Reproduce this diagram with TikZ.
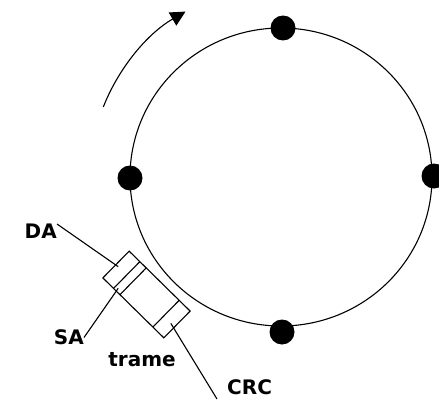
\documentclass[tikz,border=0pt]{standalone}
\usepackage{fontspec}
\setmainfont{DejaVu Sans}
\usetikzlibrary{arrows.meta,calc}
\begin{document}
\begin{tikzpicture}[x=1pt,y=1pt,
  ln/.style={line width=1.1pt},
  dot/.style={circle,fill=black,inner sep=0pt,minimum size=25pt},
  lbl/.style={font=\fontsize{20}{20}\selectfont\bfseries,inner sep=0pt}]
\path[use as bounding box] (0,0) rectangle (439,400);
% ring
\coordinate (c) at (281,223);
\draw[ln] (c) ellipse [x radius=151pt, y radius=149pt];
\node[dot] (n1) at (283,372) {};
\node[dot] (n2) at (434,224) {};
\node[dot] (n3) at (282,68) {};
\node[dot] (n4) at (130,222) {};
% rotation arrow
\coordinate (arcs) at ($(c)+(158.5:191pt)$);
\draw[ln,-{Triangle[length=15pt,width=15pt]}] (arcs) arc[start angle=158.5, end angle=120, radius=191pt];
% frame
\node[draw,ln,outer sep=0pt,inner sep=0pt,minimum width=85.5pt,minimum height=37.5pt,rotate=-44.5] (t) at (146.5,105.5) {};
\foreach \f in {0.175,0.28,0.82}
  \draw[ln] ($(t.north west)!\f!(t.north east)$) -- ($(t.south west)!\f!(t.south east)$);
% labels
\node[lbl,anchor=north east] (da) at (57,176) {DA};
\node[lbl,anchor=east] (sa) at (84,62.5) {SA};
\node[lbl] (trame) at (142,40) {trame};
\node[lbl,anchor=south west] (crc) at (227,5) {CRC};
% leader lines
\coordinate (daend) at ($(t.west)!3pt!(t.east)$);
\coordinate (saside) at ($(t.south west)!0.22!(t.south east)$);
\coordinate (crcstart) at ($($(t.north west)!0.94!(t.north east)$)!0.595!($(t.south west)!0.94!(t.south east)$)$);
\coordinate (crcend) at (217,1);
\draw[ln] (da.north east) -- (daend);
\draw[ln] (sa.east) -- ($(sa.east)!1.06!(saside)$);
\draw[ln] (crcstart) -- (crcend);
\end{tikzpicture}
\end{document}
